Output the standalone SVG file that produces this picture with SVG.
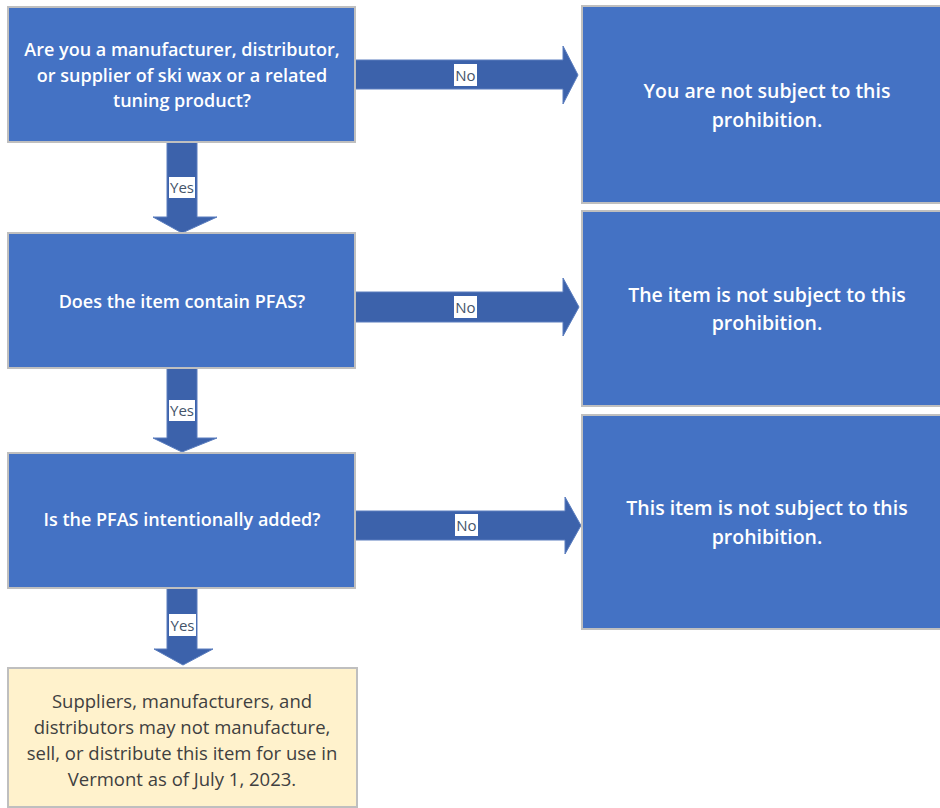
<svg xmlns="http://www.w3.org/2000/svg" width="940" height="808" viewBox="0 0 940 808">
<defs>
<style>
.q{fill:#4472C4;stroke:#BFBFBF;stroke-width:2}
.end{fill:#FFF2CC;stroke:#BFBFBF;stroke-width:2}
.arr{fill:#3C62AB;stroke:#5A7DBE;stroke-width:1}
.lbl{fill:#FFFFFF}
.lt{font-family:"Open Sans","Liberation Sans",sans-serif;font-size:15px;fill:#44546A;text-anchor:middle}
.tl{font-family:"Open Sans","Liberation Sans",sans-serif;font-size:18px;font-weight:600;fill:#FFFFFF;text-anchor:middle}
.tr{font-family:"Open Sans","Liberation Sans",sans-serif;font-size:19.5px;font-weight:600;fill:#FFFFFF;text-anchor:middle}
.ty{font-family:"Open Sans","Liberation Sans",sans-serif;font-size:18.5px;fill:#404040;text-anchor:middle}
</style>
</defs>
<rect width="940" height="808" fill="#FFFFFF"/>
<g id="connectors">
<polygon class="arr" points="355,60 563,60 563,46 578,75 563,104 563,89 355,89"/>
<polygon class="arr" points="355,292 563,292 563,278 579,307 563,336 563,322 355,322"/>
<polygon class="arr" points="355,511 565,511 565,497 581,525.5 565,554 565,540 355,540"/>
<polygon class="arr" points="167,142 197,142 197,217 217,217 182,233 153,217 167,217"/>
<polygon class="arr" points="167,368 197,368 197,438 217,438 182,452 153,438 167,438"/>
<polygon class="arr" points="167,588 197,588 197,649 213,649 183,665 154,649 167,649"/>
<rect class="lbl" x="454" y="64" width="23" height="22"/><text class="lt" x="465.5" y="80.5">No</text>
<rect class="lbl" x="454" y="296" width="23" height="22"/><text class="lt" x="465.5" y="312.5">No</text>
<rect class="lbl" x="455" y="514" width="23" height="22"/><text class="lt" x="466.5" y="530.5">No</text>
<rect class="lbl" x="169" y="177" width="26" height="21"/><text class="lt" x="182" y="192.5">Yes</text>
<rect class="lbl" x="169" y="400" width="26" height="21"/><text class="lt" x="182" y="415.5">Yes</text>
<rect class="lbl" x="169" y="614" width="27" height="22"/><text class="lt" x="182.5" y="630.5">Yes</text>
</g>
<g id="q1">
<rect class="q" x="8" y="7" width="347" height="135"/>
<text class="tl" x="182" y="56">Are you a manufacturer, distributor,</text>
<text class="tl" x="182" y="82">or supplier of ski wax or a related</text>
<text class="tl" x="182" y="107">tuning product?</text>
</g>
<g id="q2">
<rect class="q" x="8" y="233" width="347" height="135"/>
<text class="tl" x="182" y="308">Does the item contain PFAS?</text>
</g>
<g id="q3">
<rect class="q" x="8" y="453" width="347" height="135"/>
<text class="tl" x="182" y="526">Is the PFAS intentionally added?</text>
</g>
<g id="result">
<rect class="end" x="8" y="668" width="349" height="139"/>
<text class="ty" x="182" y="708">Suppliers, manufacturers, and</text>
<text class="ty" x="182" y="734">distributors may not manufacture,</text>
<text class="ty" x="182" y="760">sell, or distribute this item for use in</text>
<text class="ty" x="182" y="786">Vermont as of July 1, 2023.</text>
</g>
<g id="no1">
<rect class="q" x="582" y="6" width="370" height="197"/>
<text class="tr" x="767" y="98">You are not subject to this</text>
<text class="tr" x="767" y="127">prohibition.</text>
</g>
<g id="no2">
<rect class="q" x="582" y="211" width="370" height="195"/>
<text class="tr" x="767" y="302">The item is not subject to this</text>
<text class="tr" x="767" y="330">prohibition.</text>
</g>
<g id="no3">
<rect class="q" x="582" y="415" width="370" height="214"/>
<text class="tr" x="767" y="515">This item is not subject to this</text>
<text class="tr" x="767" y="544">prohibition.</text>
</g>
</svg>
